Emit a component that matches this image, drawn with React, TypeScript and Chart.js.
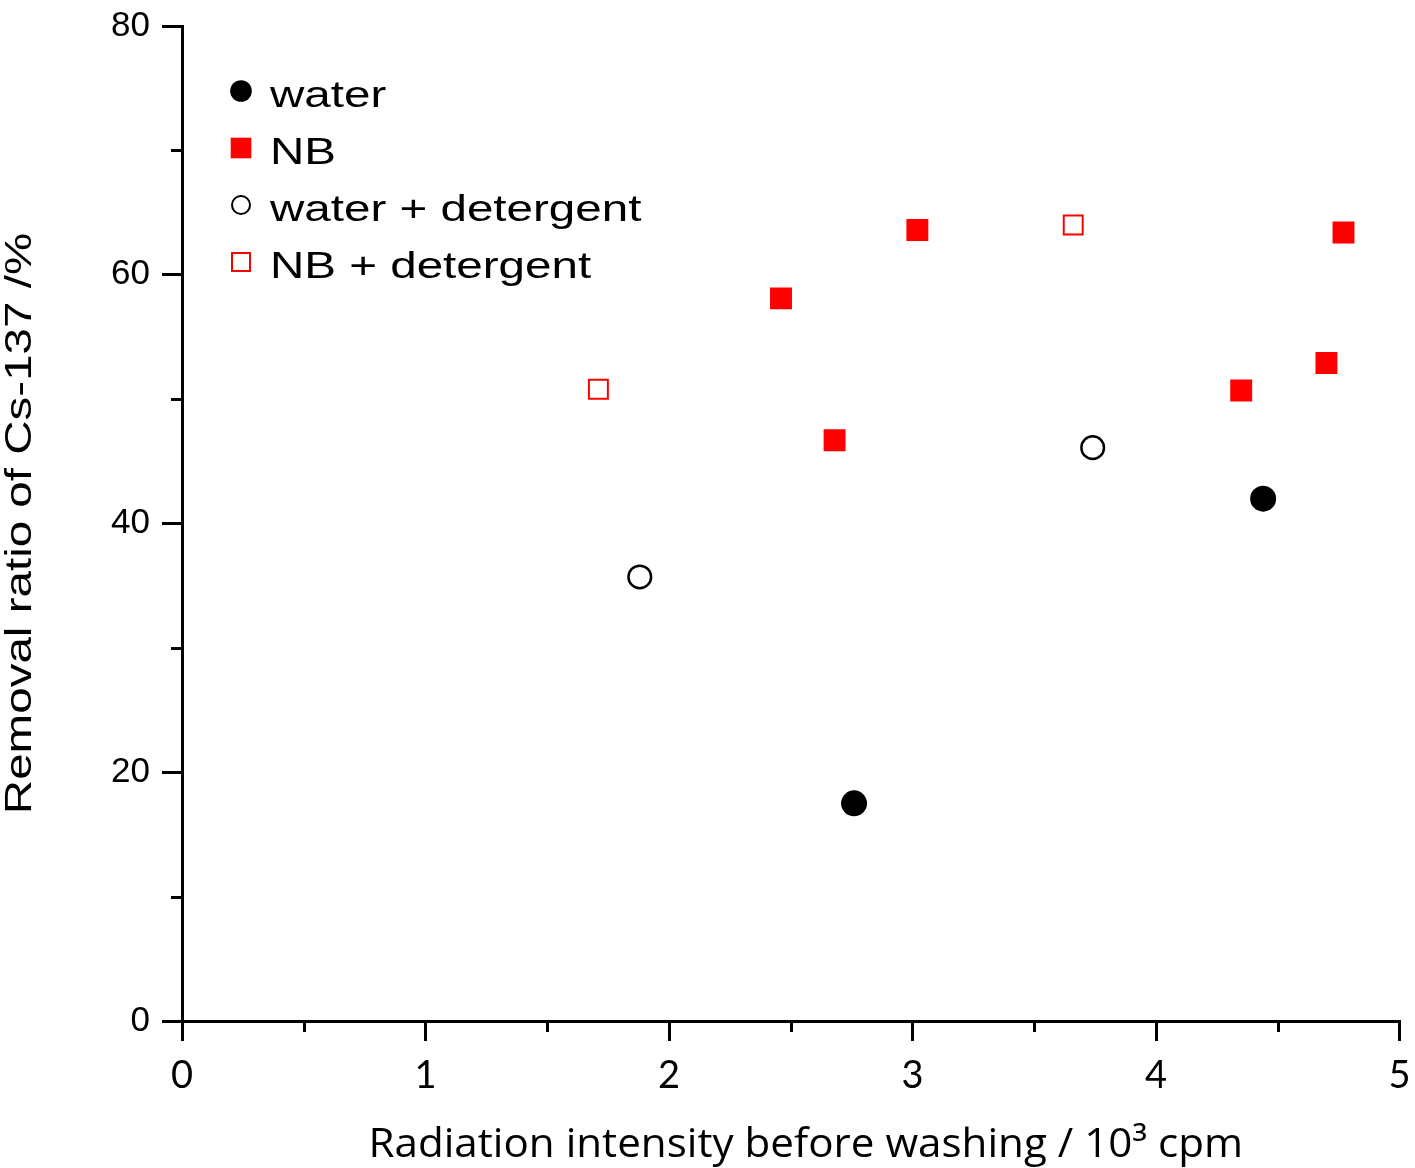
import React, { useEffect, useRef } from 'react';
import { Chart, registerables } from 'chart.js';

Chart.register(...registerables);

// ---- data ----
const seriesNames = ['water', 'NB', 'water + detergent', 'NB + detergent'];
const waterX = [2.76, 4.44];
const waterY = [17.5, 42.0];
const nbX = [2.46, 2.68, 3.02, 4.35, 4.7, 4.77];
const nbY = [58.1, 46.7, 63.6, 50.7, 52.9, 63.4];
const waterDetX = [1.88, 3.74];
const waterDetY = [35.7, 46.1];
const nbDetX = [1.71, 3.66];
const nbDetY = [50.8, 64.0];

const xTicks = [0, 1, 2, 3, 4, 5];
const yTicks = [0, 20, 40, 60, 80];
const xMinorTicks = [0.5, 1.5, 2.5, 3.5, 4.5];
const yMinorTicks = [10, 30, 50, 70];
const xTitle = 'Radiation intensity before washing / 10\u00B3 cpm';
const yTitle = 'Removal ratio of Cs-137 /%';

const RED = '#ff0000';
const BLACK = '#000000';
const TEXT_STRETCH = 1.285;
const XTITLE_STRETCH = 1.054;

const pts = (xs: number[], ys: number[]) => xs.map((x, i) => ({ x, y: ys[i] }));

const minorTicksPlugin = {
  id: 'minorTicks',
  afterDraw(chart: any) {
    const ctx = chart.ctx;
    const xs = chart.scales.x;
    const ys = chart.scales.y;
    const { left, bottom } = chart.chartArea;
    ctx.save();
    ctx.strokeStyle = BLACK;
    ctx.lineWidth = 3;
    xMinorTicks.forEach((v) => {
      const px = Math.round(xs.getPixelForValue(v)) + 0.5;
      ctx.beginPath();
      ctx.moveTo(px, bottom);
      ctx.lineTo(px, bottom + 11);
      ctx.stroke();
    });
    yMinorTicks.forEach((v) => {
      const py = Math.round(ys.getPixelForValue(v)) + 0.5;
      ctx.beginPath();
      ctx.moveTo(left, py);
      ctx.lineTo(left - 11, py);
      ctx.stroke();
    });
    ctx.restore();
  },
};

const drawMarker = (ctx: CanvasRenderingContext2D, kind: number, x: number, y: number) => {
  ctx.save();
  if (kind === 0) {
    ctx.fillStyle = BLACK;
    ctx.beginPath();
    ctx.arc(x, y, 10.8, 0, Math.PI * 2);
    ctx.fill();
  } else if (kind === 1) {
    ctx.fillStyle = RED;
    ctx.fillRect(x - 10.3, y - 10.3, 20.6, 20.6);
  } else if (kind === 2) {
    ctx.strokeStyle = BLACK;
    ctx.lineWidth = 2;
    ctx.beginPath();
    ctx.arc(x, y, 9, 0, Math.PI * 2);
    ctx.stroke();
  } else {
    ctx.strokeStyle = RED;
    ctx.lineWidth = 2;
    ctx.strokeRect(x - 9, y - 9, 18, 18);
  }
  ctx.restore();
};

const legendAndTitlePlugin = {
  id: 'legendAndTitle',
  afterDraw(chart: any) {
    const ctx: CanvasRenderingContext2D = chart.ctx;
    const { left, top, bottom, right } = chart.chartArea;
    // legend
    seriesNames.forEach((name, i) => {
      const baseY = top + 81 + i * 57;
      drawMarker(ctx, i, left + 59, baseY - 16);
      ctx.save();
      ctx.fillStyle = BLACK;
      ctx.font = '37px "Liberation Sans", Arial, sans-serif';
      ctx.textAlign = 'left';
      ctx.textBaseline = 'alphabetic';
      ctx.translate(left + 88, baseY);
      ctx.scale(TEXT_STRETCH, 1);
      ctx.fillText(name, 0, 0);
      ctx.restore();
    });
    // y axis title
    ctx.save();
    ctx.fillStyle = BLACK;
    ctx.font = '37px "Liberation Sans", Arial, sans-serif';
    ctx.textAlign = 'center';
    ctx.textBaseline = 'alphabetic';
    ctx.translate(31, (top + bottom) / 2);
    ctx.rotate(-Math.PI / 2);
    ctx.scale(TEXT_STRETCH, 1);
    ctx.fillText(yTitle, 0, 0);
    ctx.restore();
    // x axis title
    ctx.save();
    ctx.fillStyle = BLACK;
    ctx.font = '40px "Open Sans", sans-serif';
    ctx.textAlign = 'center';
    ctx.textBaseline = 'alphabetic';
    ctx.translate((left + right) / 2 + 15, bottom + 136);
    ctx.scale(XTITLE_STRETCH, 1);
    ctx.fillText(xTitle, 0, 0);
    ctx.restore();
  },
};

const zeroPadding = (s: any) => {
  s.paddingLeft = 0;
  s.paddingRight = 0;
  s.paddingTop = 0;
  s.paddingBottom = 0;
};

export default function App() {
  const canvasRef = useRef<HTMLCanvasElement | null>(null);

  useEffect(() => {
    if (!canvasRef.current) return;
    const chart = new Chart(canvasRef.current, {
      type: 'scatter',
      data: {
        datasets: [
          {
            label: seriesNames[0],
            data: pts(waterX, waterY),
            pointStyle: 'circle',
            pointRadius: 13,
            backgroundColor: BLACK,
            borderColor: BLACK,
            borderWidth: 0,
          },
          {
            label: seriesNames[1],
            data: pts(nbX, nbY),
            pointStyle: 'rect',
            pointRadius: 15.5,
            backgroundColor: RED,
            borderColor: RED,
            borderWidth: 0,
          },
          {
            label: seriesNames[2],
            data: pts(waterDetX, waterDetY),
            pointStyle: 'circle',
            pointRadius: 11.3,
            backgroundColor: 'rgba(255,255,255,0)',
            borderColor: BLACK,
            borderWidth: 2.5,
          },
          {
            label: seriesNames[3],
            data: pts(nbDetX, nbDetY),
            pointStyle: 'rect',
            pointRadius: 13.4,
            backgroundColor: 'rgba(255,255,255,0)',
            borderColor: RED,
            borderWidth: 2,
          },
        ],
      },
      options: {
        animation: false,
        responsive: false,
        layout: { padding: { top: 26, right: 13, left: 0, bottom: 0 } },
        plugins: {
          legend: { display: false },
          tooltip: { enabled: false },
        },
        scales: {
          x: {
            type: 'linear',
            position: 'bottom',
            min: 0,
            max: 5,
            afterBuildTicks: (s: any) => {
              s.ticks = xTicks.map((v) => ({ value: v }));
            },
            afterFit: (s: any) => {
              s.height = 147;
              zeroPadding(s);
            },
            grid: {
              display: true,
              drawOnChartArea: false,
              drawTicks: true,
              tickLength: 20,
              lineWidth: 3,
              tickWidth: 3,
              tickColor: BLACK,
              color: BLACK,
            },
            border: { display: true, color: BLACK, width: 3 },
            ticks: {
              color: BLACK,
              font: { family: 'Lato', size: 38 },
              padding: 12,
              maxRotation: 0,
              autoSkip: false,
              callback: (v: any) => String(v),
            },
            title: { display: false },
          },
          y: {
            type: 'linear',
            min: 0,
            max: 80,
            afterBuildTicks: (s: any) => {
              s.ticks = yTicks.map((v) => ({ value: v }));
            },
            afterFit: (s: any) => {
              s.width = 182;
              zeroPadding(s);
            },
            grid: {
              display: true,
              drawOnChartArea: false,
              drawTicks: true,
              tickLength: 20,
              lineWidth: 3,
              tickWidth: 3,
              tickColor: BLACK,
              color: BLACK,
            },
            border: { display: true, color: BLACK, width: 3 },
            ticks: {
              color: BLACK,
              font: { family: '"Liberation Sans", Arial, sans-serif', size: 35 },
              padding: 12,
              autoSkip: false,
              callback: (v: any) => String(v),
            },
            title: { display: false },
          },
        },
      },
      plugins: [minorTicksPlugin, legendAndTitlePlugin],
    } as any);
    return () => chart.destroy();
  }, []);

  return (
    <div style={{ position: 'absolute', left: 0, top: 0, width: 1415, height: 1168, background: '#fff' }}>
      <canvas ref={canvasRef} width={1415} height={1168} style={{ display: 'block' }} />
    </div>
  );
}
